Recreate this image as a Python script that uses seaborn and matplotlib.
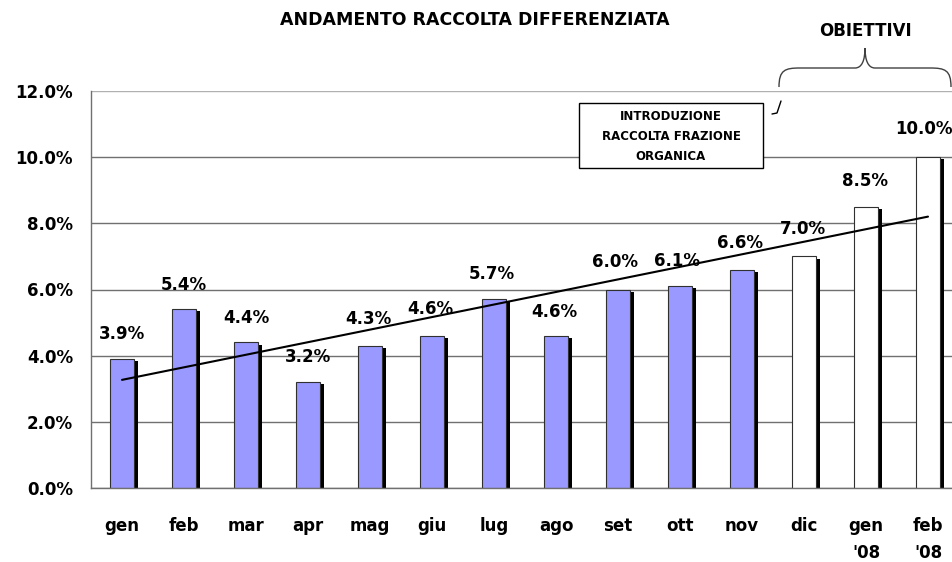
import numpy as np
import pandas as pd
import matplotlib
matplotlib.use('Agg')
import matplotlib.pyplot as plt
import matplotlib.patheffects as pe
from matplotlib.path import Path
from matplotlib.patches import PathPatch, Rectangle
from matplotlib.ticker import FuncFormatter
import seaborn as sns

mesi = ['gen', 'feb', 'mar', 'apr', 'mag', 'giu', 'lug', 'ago', 'set', 'ott', 'nov',
        'dic', "gen\n'08", "feb\n'08"]
raccolta = [3.9, 5.4, 4.4, 3.2, 4.3, 4.6, 5.7, 4.6, 6.0, 6.1, 6.6, 7.0, 8.5, 10.0]
obiettivo = [False] * 11 + [True] * 3

# posizione delle etichette (spostate a mano come nell'originale)
etichette_x = [0, 1, 2, 3, 3.98, 4.97, 5.97, 6.97, 7.95, 8.95, 9.97, 10.98, 11.98, 12.93]
etichette_y = [4.64, 6.15, 5.15, 3.97, 5.12, 5.42, 6.48, 5.33, 6.82, 6.85, 7.42, 7.82, 9.27, 10.85]

df = pd.DataFrame({'mese': mesi, 'valore': raccolta, 'obiettivo': obiettivo})
colori = ['white' if o else '#9999FF' for o in obiettivo]

sns.set_style('white')
plt.rcParams['font.family'] = ['DejaVu Sans']
plt.rcParams['text.color'] = 'black'
plt.rcParams['xtick.color'] = 'black'
plt.rcParams['ytick.color'] = 'black'

fig = plt.figure(figsize=(9.52, 5.62), dpi=100)
ax = fig.add_axes([91 / 952, 74 / 562, 868 / 952, 397 / 562])

sns.barplot(data=df, x='mese', y='valore', hue='mese', palette=colori, legend=False,
            width=0.4, saturation=1, edgecolor='#303030', linewidth=0.8, ax=ax, zorder=2)

ombra = [pe.SimplePatchShadow(offset=(2.4, -1.5), shadow_rgbFace='black', alpha=1), pe.Normal()]
for p in ax.patches:
    p.set_path_effects(ombra)

# linea di tendenza
sns.regplot(x=np.arange(len(raccolta)), y=np.array(raccolta), scatter=False, ci=None,
            truncate=True, color='black', line_kws={'lw': 1.5, 'zorder': 4}, ax=ax)

for v, xl, yl in zip(raccolta, etichette_x, etichette_y):
    ax.text(xl, yl, f'{v:.1f}%', ha='center', va='center', fontsize=12,
            fontweight='bold', zorder=5)

ax.set_xlim(-0.5, len(mesi) - 0.5)
ax.set_ylim(0, 12)
ax.set_yticks(np.arange(0, 12.1, 2))
ax.yaxis.set_major_formatter(FuncFormatter(lambda v, _: f'{v:.1f}%'))
ax.set_xticks(np.arange(len(mesi)))
ax.set_xticklabels(mesi, linespacing=1.65)
ax.set_xticks(np.arange(len(mesi) + 1) - 0.5, minor=True)
ax.tick_params(axis='x', which='major', length=0, pad=21, labelsize=12)
ax.tick_params(axis='x', which='minor', length=5, width=1, color='#606060', direction='out')
ax.tick_params(axis='y', length=6, width=1, color='#606060', pad=7, labelsize=12, direction='out')
for lab in ax.get_xticklabels() + ax.get_yticklabels():
    lab.set_fontweight('bold')

ax.set_axisbelow(True)
ax.yaxis.grid(True, color='#707070', lw=1)
ax.yaxis.get_gridlines()[-1].set_color('#b0b0b0')
ax.set_xlabel('')
ax.set_ylabel('')
for s in ['top', 'right']:
    ax.spines[s].set_visible(False)
for s in ['left', 'bottom']:
    ax.spines[s].set_color('#707070')
    ax.spines[s].set_linewidth(1)

# livello sovrapposto in pixel per titolo, riquadro e graffa
ov = fig.add_axes([0, 0, 1, 1])
ov.set_xlim(0, 952)
ov.set_ylim(562, 0)
ov.axis('off')
ov.patch.set_alpha(0)

ov.text(475, 20, 'ANDAMENTO RACCOLTA DIFFERENZIATA', ha='center', va='center',
        fontsize=12.5, fontweight='bold')
ov.text(865, 31, 'OBIETTIVI', ha='center', va='center', fontsize=12, fontweight='bold')

ov.add_patch(Rectangle((579, 103), 184, 65, facecolor='white', edgecolor='black', lw=1, zorder=5))
ov.text(671, 136, 'INTRODUZIONE\nRACCOLTA FRAZIONE\nORGANICA', ha='center', va='center',
        fontsize=8.5, fontweight='bold', linespacing=1.7, zorder=6)

# connettore
ov.plot([772, 777, 781], [114, 113, 101], color='black', lw=1)

# graffa
verts = [(779, 87), (779, 70), (785, 68), (800, 68),
         (855, 68), (862, 68), (865, 60), (865, 48),
         (865, 60), (868, 68), (875, 68),
         (930, 68), (945, 68), (951, 70), (951, 87)]
codes = [Path.MOVETO, Path.CURVE4, Path.CURVE4, Path.CURVE4,
         Path.LINETO, Path.CURVE4, Path.CURVE4, Path.CURVE4,
         Path.CURVE4, Path.CURVE4, Path.CURVE4,
         Path.LINETO, Path.CURVE4, Path.CURVE4, Path.CURVE4]
ov.add_patch(PathPatch(Path(verts, codes), facecolor='none', edgecolor='#404040', lw=1))

fig.savefig('out.png', dpi=100)
